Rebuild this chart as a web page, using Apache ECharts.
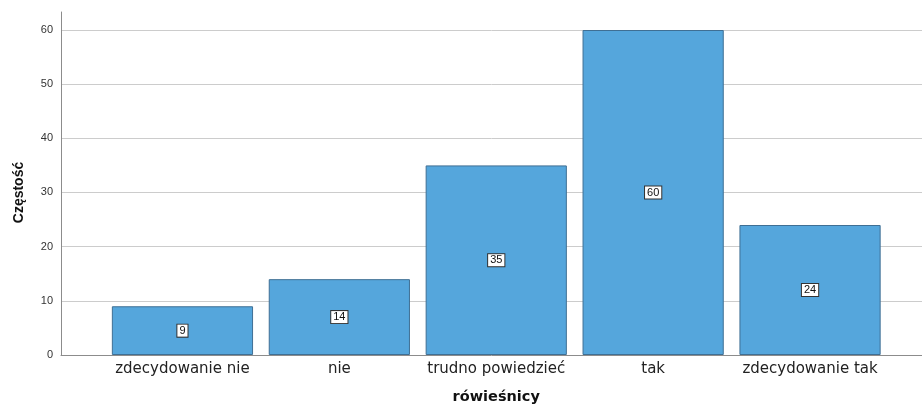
<!DOCTYPE html>
<html>
<head>
<meta charset="utf-8">
<script src="https://cdn.jsdelivr.net/npm/echarts@6/dist/echarts.min.js"></script>
<style>
html,body{margin:0;padding:0;background:#fff;}
#chart{width:922px;height:404px;}
</style>
</head>
<body>
<div id="chart"></div>
<script>
const categories = ['zdecydowanie nie', 'nie', 'trudno powiedzieć', 'tak', 'zdecydowanie tak'];
const counts = [9, 14, 35, 60, 24];
const yTicks = [0, 10, 20, 30, 40, 50, 60];
const xTitle = 'rówieśnicy';
const yTitle = 'Częstość';

const FONT = '"Liberation Sans", Arial, sans-serif';
const WIDE = '"DejaVu Sans", sans-serif';
const yMax = 63.3;

const chart = echarts.init(document.getElementById('chart'), null, {renderer: 'canvas'});
chart.setOption({
  animation: false,
  backgroundColor: '#ffffff',
  grid: [
    {left: 61, right: 0, top: 12, bottom: 49, containLabel: false, outerBoundsMode: 'none'},
    {left: 104, right: 33.5, top: 30, bottom: 49, containLabel: false, outerBoundsMode: 'none'}
  ],
  xAxis: [
    {
      gridIndex: 0, type: 'value', min: 0, max: 1,
      axisLine: {show: true, lineStyle: {color: '#8c8c8c', width: 1}},
      axisTick: {show: false}, axisLabel: {show: false}, splitLine: {show: false}
    },
    {
      gridIndex: 1, type: 'category', data: categories,
      axisLine: {show: false}, axisTick: {show: false},
      axisLabel: {fontFamily: WIDE, fontSize: 15, color: '#222', margin: 7, interval: 0},
      name: xTitle, nameLocation: 'middle', nameGap: 35,
      nameTextStyle: {fontFamily: WIDE, fontSize: 14.5, fontWeight: 'bold', color: '#111'}
    }
  ],
  yAxis: [
    {
      gridIndex: 0, type: 'value', min: 0, max: yMax, interval: 10,
      axisLine: {show: true, lineStyle: {color: '#8c8c8c', width: 1}},
      axisTick: {show: false},
      axisLabel: {
        fontFamily: FONT, fontSize: 11, color: '#333', margin: 8,
        formatter: function (v) { return yTicks.indexOf(v) >= 0 ? String(v) : ''; }
      },
      splitLine: {show: true, showMinLine: false, showMaxLine: false, lineStyle: {color: '#cccccc', width: 1}}
    },
    {
      gridIndex: 1, type: 'value', min: 0, max: 60, interval: 10,
      axisLine: {show: false}, axisTick: {show: false}, axisLabel: {show: false},
      splitLine: {show: false},
      name: yTitle, nameLocation: 'middle', nameGap: 78, nameRotate: 90,
      nameTextStyle: {fontFamily: FONT, fontSize: 14, fontWeight: 'bold', color: '#111'}
    }
  ],
  series: [{
    type: 'bar',
    xAxisIndex: 1, yAxisIndex: 1,
    data: counts,
    barCategoryGap: '10%',
    itemStyle: {color: '#55a6dc', borderColor: '#3f6f94', borderWidth: 1},
    label: {
      show: true, position: 'inside',
      fontFamily: FONT, fontSize: 11, color: '#111',
      backgroundColor: '#ffffff', borderColor: '#333', borderWidth: 1,
      padding: [1, 2, 0, 2]
    }
  }]
});
</script>
</body>
</html>
